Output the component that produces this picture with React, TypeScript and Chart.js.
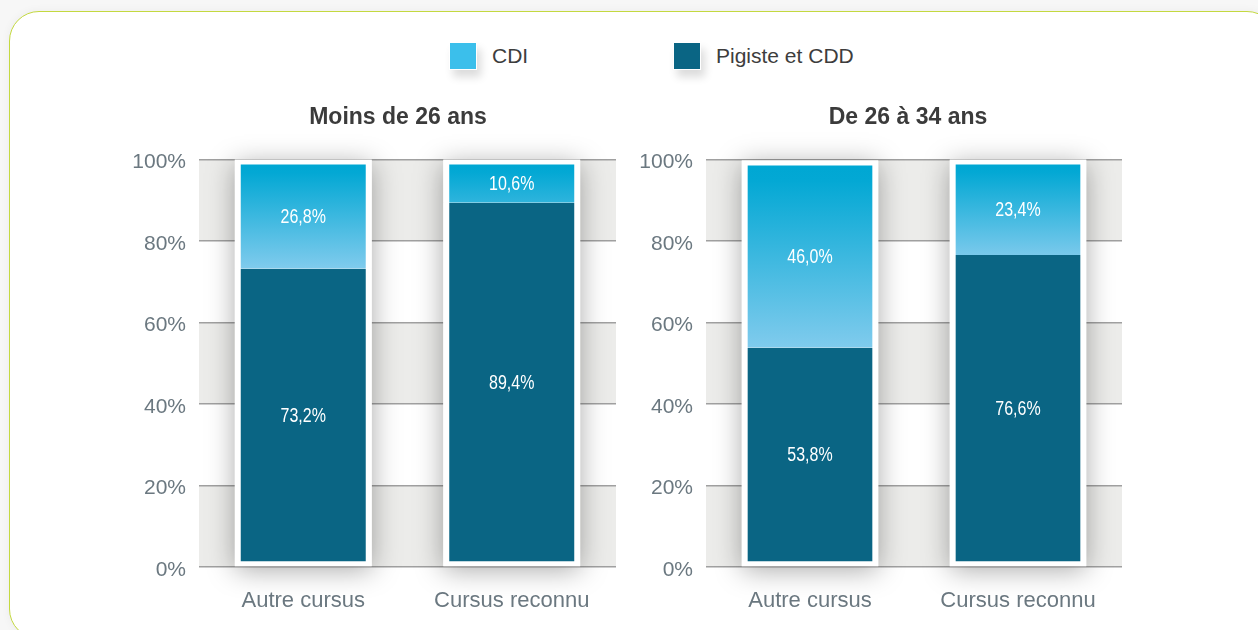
import React, { useEffect, useRef } from 'react';
import { Chart, registerables } from 'chart.js';

Chart.register(...registerables);

const categories = ['Autre cursus', 'Cursus reconnu'];
const panelTitles = ['Moins de 26 ans', 'De 26 à 34 ans'];
const seriesNames = ['CDI', 'Pigiste et CDD'];
const cdiUnder26 = [26.8, 10.6];
const pigisteUnder26 = [73.2, 89.4];
const cdi26to34 = [46.0, 23.4];
const pigiste26to34 = [53.8, 76.6];
const yTicks = [0, 20, 40, 60, 80, 100];

const FONT = "'Liberation Sans', Arial, Helvetica, sans-serif";
const CDI_COLOR = '#3bbfeb';
const PIG_COLOR = '#0a6584';
const TICK_COLOR = '#6b7880';

const fmt = (v: number) => v.toFixed(1).replace('.', ',') + '%';

const bandsPlugin = {
  id: 'bands',
  beforeDraw(chart: any) {
    const { ctx, chartArea } = chart;
    const y = chart.scales.y;
    ctx.save();
    for (let k = 0; k < yTicks.length - 1; k++) {
      if (k % 2 !== 0) continue;
      const a = y.getPixelForValue(yTicks[k]);
      const b = y.getPixelForValue(yTicks[k + 1]);
      ctx.fillStyle = '#ececea';
      ctx.fillRect(chartArea.left, Math.min(a, b), chartArea.right - chartArea.left, Math.abs(a - b));
    }
    ctx.restore();
  },
};

const shadowPlugin = {
  id: 'barShadow',
  beforeDatasetsDraw(chart: any) {
    const { ctx } = chart;
    const m0 = chart.getDatasetMeta(0);
    const m1 = chart.getDatasetMeta(1);
    ctx.save();
    m0.data.forEach((el: any, i: number) => {
      const e0 = el.getProps(['x', 'y', 'base', 'width'], true);
      const e1 = m1.data[i].getProps(['x', 'y', 'base', 'width'], true);
      const top = Math.min(e0.y, e0.base, e1.y, e1.base);
      const bot = Math.max(e0.y, e0.base, e1.y, e1.base);
      ctx.shadowColor = 'rgba(0,0,0,0.34)';
      ctx.shadowBlur = 26;
      ctx.shadowOffsetX = 0;
      ctx.shadowOffsetY = 4;
      ctx.fillStyle = '#ffffff';
      ctx.fillRect(e0.x - e0.width / 2, top, e0.width, bot - top);
    });
    ctx.restore();
  },
};

const labelPlugin = {
  id: 'segLabels',
  afterDatasetsDraw(chart: any) {
    const { ctx } = chart;
    chart.data.datasets.forEach((ds: any, di: number) => {
      const meta = chart.getDatasetMeta(di);
      const bw = ds.borderWidth;
      meta.data.forEach((el: any, i: number) => {
        const p = el.getProps(['x', 'y', 'base'], true);
        const top = Math.min(p.y, p.base) + bw.top;
        const bot = Math.max(p.y, p.base) - bw.bottom;
        ctx.save();
        ctx.translate(p.x, (top + bot) / 2 + 1);
        ctx.scale(0.8, 1);
        ctx.fillStyle = '#ffffff';
        ctx.font = `20px ${FONT}`;
        ctx.textAlign = 'center';
        ctx.textBaseline = 'middle';
        ctx.fillText(fmt(ds.data[i]), 0, 0);
        ctx.restore();
      });
    });
  },
};

function makeGradient(bottomVals: number[], topVals: number[]) {
  return (c: any) => {
    const chart = c.chart;
    const y = chart.scales && chart.scales.y;
    const i = c.dataIndex;
    if (!y || i === undefined) return CDI_COLOR;
    const top = y.getPixelForValue(bottomVals[i] + topVals[i]) + 5;
    const bot = y.getPixelForValue(bottomVals[i]);
    if (!isFinite(top) || !isFinite(bot)) return CDI_COLOR;
    const g = chart.ctx.createLinearGradient(0, top, 0, top + Math.max(bot - top, 95));
    g.addColorStop(0, '#00a7d3');
    g.addColorStop(0.08, '#03a8d4');
    g.addColorStop(1, '#80cbed');
    return g;
  };
}

function Panel(props: {
  title: string;
  cdi: number[];
  pig: number[];
  left: number;
  top: number;
  axisWidth: number;
  rightWidth: number;
}) {
  const ref = useRef<HTMLCanvasElement | null>(null);
  useEffect(() => {
    if (!ref.current) return;
    const chart = new Chart(ref.current, {
      type: 'bar',
      data: {
        labels: categories,
        datasets: [
          {
            label: seriesNames[1],
            data: props.pig,
            backgroundColor: PIG_COLOR,
            borderColor: '#ffffff',
            borderWidth: { top: 0, left: 6, right: 6, bottom: 5 } as any,
            borderSkipped: false,
            categoryPercentage: 1,
            barPercentage: 0.657,
          },
          {
            label: seriesNames[0],
            data: props.cdi,
            backgroundColor: makeGradient(props.pig, props.cdi) as any,
            borderColor: '#ffffff',
            borderWidth: { top: 5, left: 6, right: 6, bottom: 0 } as any,
            borderSkipped: false,
            categoryPercentage: 1,
            barPercentage: 0.657,
          },
        ],
      },
      options: {
        animation: false,
        responsive: false,
        devicePixelRatio: 1,
        layout: { padding: 0 },
        plugins: {
          legend: { display: false },
          tooltip: { enabled: false },
          title: {
            display: true,
            text: props.title,
            color: '#3b3b3b',
            font: { family: FONT, size: 23, weight: 'bold' },
            padding: { top: 14, bottom: 28 },
          },
        },
        scales: {
          x: {
            stacked: true,
            grid: { display: false },
            border: { display: false },
            ticks: { color: TICK_COLOR, font: { family: FONT, size: 22 }, padding: 13 },
            afterFit: (s: any) => {
              s.height = 63;
            },
          },
          y: {
            stacked: true,
            min: 0,
            max: 100,
            border: { display: false },
            grid: { color: '#a0a0a0', lineWidth: 1.5, drawTicks: false },
            ticks: {
              stepSize: 20,
              color: TICK_COLOR,
              font: { family: FONT, size: 21 },
              padding: 13,
              labelOffset: 3,
              callback: (v: any) => v + '%',
            },
            afterFit: (s: any) => {
              s.width = props.axisWidth;
            },
          },
          spacer: {
            type: 'linear',
            position: 'right',
            display: true,
            grid: { display: false },
            border: { display: false },
            ticks: { display: false },
            afterFit: (s: any) => {
              s.width = props.rightWidth;
            },
          },
        },
      },
      plugins: [bandsPlugin, shadowPlugin, labelPlugin],
    });
    return () => chart.destroy();
  }, []);
  return (
    <canvas
      ref={ref}
      width={536}
      height={540}
      style={{ position: 'absolute', left: props.left, top: props.top, width: 536, height: 540 }}
    />
  );
}

function LegendItem(props: { color: string; label: string; left: number }) {
  return (
    <div style={{ position: 'absolute', left: props.left, top: 41, height: 30, display: 'flex', alignItems: 'center' }}>
      <div
        style={{
          width: 28,
          height: 28,
          background: props.color,
          border: '1px solid #ffffff',
          boxShadow: '4px 7px 9px rgba(0,0,0,0.14)',
          boxSizing: 'border-box',
        }}
      />
      <span style={{ marginLeft: 15, fontFamily: FONT, fontSize: 21, color: '#3d3d3d', lineHeight: '30px' }}>
        {props.label}
      </span>
    </div>
  );
}

export default function App() {
  return (
    <div
      style={{
        position: 'fixed',
        left: 0,
        top: 0,
        width: 1258,
        height: 630,
        background: '#f7f7f7',
        overflow: 'hidden',
      }}
    >
      <div
        style={{
          position: 'absolute',
          left: 9,
          top: 11,
          width: 1268,
          height: 628,
          border: '1.5px solid #c4d940',
          borderRadius: 30,
          background: '#ffffff',
          boxShadow: '0 0 10px rgba(0,0,0,0.05)',
          boxSizing: 'border-box',
        }}
      />
      <LegendItem color={CDI_COLOR} label={seriesNames[0]} left={449} />
      <LegendItem color={PIG_COLOR} label={seriesNames[1]} left={673} />
      <Panel
        title={panelTitles[0]}
        cdi={cdiUnder26}
        pig={pigisteUnder26}
        left={130}
        top={90}
        axisWidth={69}
        rightWidth={50}
      />
      <Panel
        title={panelTitles[1]}
        cdi={cdi26to34}
        pig={pigiste26to34}
        left={640}
        top={90}
        axisWidth={66}
        rightWidth={54}
      />
    </div>
  );
}
